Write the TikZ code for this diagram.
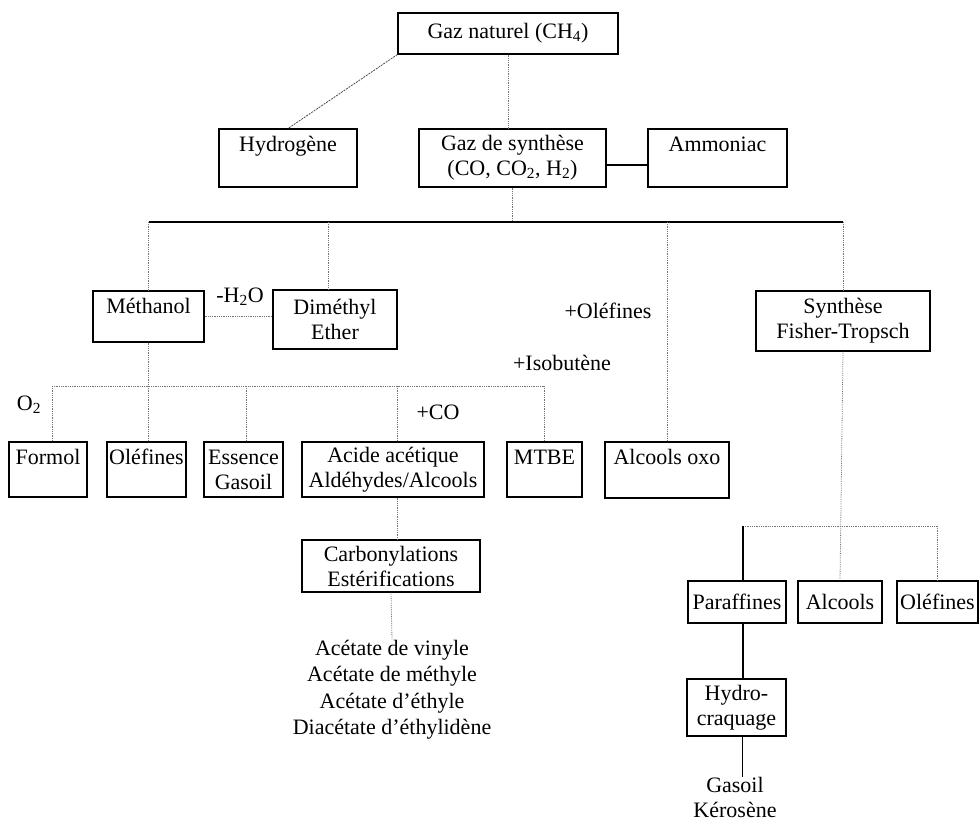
\documentclass[tikz,border=0pt]{standalone}
\usepackage{fontspec}
\setmainfont{Liberation Serif}
\usetikzlibrary{positioning,calc}

\begin{document}
\begin{tikzpicture}[
  x=1pt, y=-1pt,
  box/.style={draw, line width=1.1pt, inner sep=0pt, align=center,
              font=\fontsize{22}{25}\selectfont},
  topBox/.style={box, text height=22pt, text depth=#1},
  txt/.style={inner sep=0pt, align=center,
              font=\fontsize{22}{26.5}\selectfont},
  solidLine/.style={line width=1.1pt},
  dotLine/.style={densely dotted, line width=0.8pt, black!55},
  dashLine/.style={dash pattern=on 2pt off 1pt, line width=0.8pt, black!70}
]
  \useasboundingbox (0,0) rectangle (980,823);

  % === Top: natural gas ===
  \node[box, minimum width=220, minimum height=41] (gn) at (508,33.5)
    {Gaz naturel (CH\textsubscript{4})};
  \node[topBox=36pt, minimum width=138] (hyd) at (288,158) {Hydrogène};
  \node[box, minimum width=187, minimum height=58] (gs) at (512.5,158)
    {Gaz de synthèse\\(CO, CO\textsubscript{2}, H\textsubscript{2})};
  \node[topBox=36pt, minimum width=139] (amm) at (717.5,158) {Ammoniac};
  \draw[dashLine] (gn.south west) -- (hyd.north);
  \draw[dotLine] (gn.south) -- (gn.south |- gs.north);
  \draw[solidLine] ([yshift=-7pt]gs.east) -- ([yshift=-7pt]amm.west);

  % === Second level ===
  \node[topBox=29pt, minimum width=111] (meth) at (148.5,316.5) {Méthanol};
  \node[box, minimum width=124, minimum height=59] (dme) at (335,319.5)
    {Diméthyl\\Ether};
  \node[box, minimum width=174, minimum height=60] (ft) at (843,321)
    {Synthèse\\Fisher-Tropsch};
  \node[txt] (h2o) at (240,297) {-H\textsubscript{2}O};
  \node[txt] (oleLbl) at (608,311) {+Oléfines};
  \node[txt] (isoLbl) at (562,363) {+Isobutène};

  % === Methanol products ===
  \node[topBox=33pt, minimum width=78] (formol) at (48,469.5) {Formol};
  \node[topBox=33pt, minimum width=79] (ole) at (146.5,469.5) {Oléfines};
  \node[box, minimum width=79, minimum height=55] (ess) at (243.5,469.5)
    {Essence\\Gasoil};
  \node[box, minimum width=182, minimum height=55] (acide) at (393,469.5)
    {Acide acétique\\Aldéhydes/Alcools};
  \node[topBox=33pt, minimum width=75] (mtbe) at (544.5,469.5) {MTBE};
  \node[topBox=34pt, minimum width=124] (oxo) at (667,470) {Alcools oxo};
  \node[txt] (o2) at (29,405) {O\textsubscript{2}};
  \node[txt] (co) at (438,412) {+CO};

  \node[box, minimum width=178, minimum height=52] (carb) at (391,566)
    {Carbonylations\\Estérifications};
  \node[txt] (prod) at (392,689.5)
    {Acétate de vinyle\\Acétate de méthyle\\Acétate d’éthyle\\Diacétate d’éthylidène};

  % === Fisher-Tropsch products ===
  \node[box, minimum width=98, minimum height=42] (par) at (737,602) {Paraffines};
  \node[box, minimum width=84, minimum height=42] (alc) at (840,602) {Alcools};
  \node[box, minimum width=81, minimum height=42] (ole2) at (937.5,602) {Oléfines};
  \node[box, minimum width=99, minimum height=57] (hydro) at (736.5,707.5)
    {Hydro-\\craquage};
  \node[txt, font=\fontsize{22}{25}\selectfont] (kero) at (735,797) {Gasoil\\Kérosène};

  % === Connectors ===
  \coordinate (bus) at (0,222);
  \coordinate (mbus) at (0,386);
  \coordinate (fbus) at (0,526);

  \draw[dotLine] (gs.south) -- (gs.south |- bus);
  \draw[solidLine] (meth.north |- bus) -- (ft.north |- bus);
  \draw[dotLine] (meth.north |- bus) -- (meth.north);
  \draw[dotLine] ([xshift=-7pt]dme.north |- bus) -- ([xshift=-7pt]dme.north);
  \draw[dotLine] (oxo.north |- bus) -- (oxo.north);
  \draw[dotLine] (ft.north |- bus) -- (ft.north);
  \draw[dotLine] (meth.east) -- (dme.west |- meth.east);

  \draw[dotLine] (meth.south) -- (meth.south |- mbus);
  \draw[dotLine] ([xshift=4pt]formol.north |- mbus) -- (mtbe.north |- mbus);
  \foreach \n/\dx in {formol/4, ole/1.5, ess/2.5, acide/4, mtbe/0}
    \draw[dotLine] ([xshift=\dx pt]\n.north |- mbus) -- ([xshift=\dx pt]\n.north);
  \draw[dotLine] ([xshift=4pt]acide.south) -- ([xshift=4pt]acide.south |- carb.north);
  \draw[dotLine] (carb.south) -- (prod.north);

  \draw[dotLine] (ft.south) -- (alc.north);
  \draw[dotLine] ([xshift=6pt]par.north |- fbus) -- (ole2.north |- fbus);
  \draw[dotLine] (ole2.north |- fbus) -- (ole2.north);
  \draw[solidLine] ([xshift=6pt]par.north |- fbus) -- ([xshift=6pt]par.north);
  \draw[solidLine] ([xshift=6pt]par.south) -- ([xshift=6pt]par.south |- hydro.north);
  \draw[solidLine] ([xshift=6pt]hydro.south) -- ([xshift=6pt]hydro.south |- kero.north);
\end{tikzpicture}
\end{document}
